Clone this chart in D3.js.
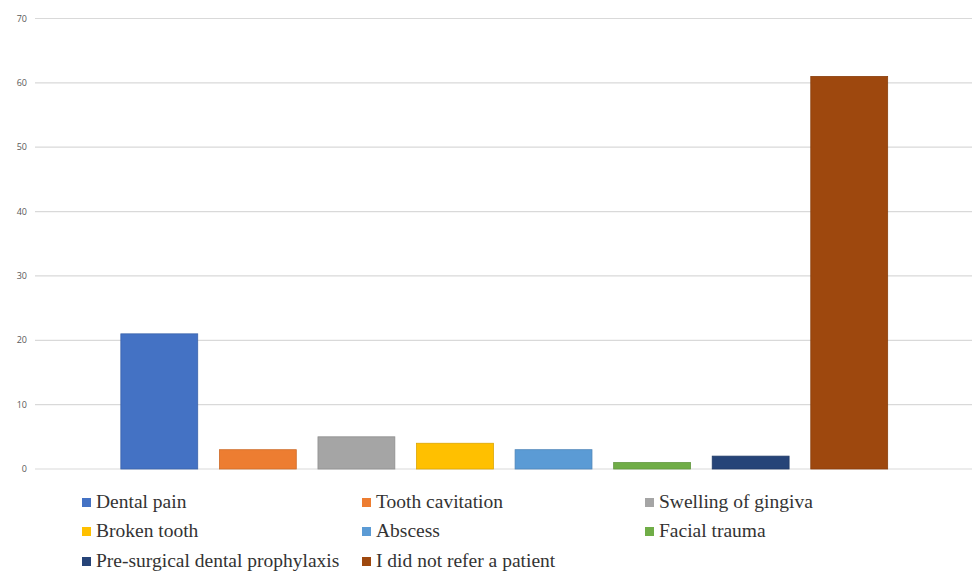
<!DOCTYPE html>
<html>
<head>
<meta charset="utf-8">
<script src="https://cdn.jsdelivr.net/npm/d3@7"></script>
<style>
body { margin: 0; background: #fff; }
#wrap { position: relative; width: 975px; height: 571px; }
svg { display: block; position: absolute; left: 0; top: 0; }
.legend-item {
    position: absolute;
    font-family: "Liberation Serif", "Times New Roman", serif;
    font-size: 19.5px;
    color: #333;
    white-space: nowrap;
    line-height: 20px;
}
.legend-item span.sw {
    display: inline-block;
    width: 9px;
    height: 9px;
    margin-right: 5px;
    vertical-align: 1px;
}
</style>
</head>
<body>
<div id="wrap">
<svg width="975" height="571"></svg>
</div>
<script>
var categories = ["Dental pain", "Tooth cavitation", "Swelling of gingiva", "Broken tooth",
    "Abscess", "Facial trauma", "Pre-surgical dental prophylaxis", "I did not refer a patient"];
var values = [21, 3, 5, 4, 3, 1, 2, 61];
var colors = ["#4472C4", "#ED7D31", "#A5A5A5", "#FFC000", "#5B9BD5", "#70AD47", "#264478", "#9E480E"];
var yTicks = [0, 10, 20, 30, 40, 50, 60, 70];

var svg = d3.select("svg");

var y = d3.scaleLinear()
    .domain([0, 70])
    .range([469, 18.5]);

var x = d3.scaleBand()
    .domain(categories)
    .range([110, 898.5])
    .paddingInner(0.22)
    .paddingOuter(0.11);

// gridlines + tick labels
var grid = svg.append("g");
grid.selectAll("line")
    .data(yTicks)
    .enter().append("line")
    .attr("x1", 35)
    .attr("x2", 972)
    .attr("y1", function (d) { return y(d); })
    .attr("y2", function (d) { return y(d); })
    .attr("stroke", "#d9d9d9")
    .attr("stroke-width", 1.2);

grid.selectAll("text")
    .data(yTicks)
    .enter().append("text")
    .attr("x", 27)
    .attr("y", function (d) { return y(d); })
    .attr("dy", "0.35em")
    .attr("text-anchor", "end")
    .attr("font-family", "Open Sans, sans-serif")
    .attr("font-size", 9)
    .attr("fill", "#595959")
    .text(function (d) { return d; });

// bars
svg.append("g").selectAll("rect")
    .data(values)
    .enter().append("rect")
    .attr("x", function (d, i) { return x(categories[i]); })
    .attr("y", function (d) { return y(d); })
    .attr("width", x.bandwidth())
    .attr("height", function (d) { return y(0) - y(d); })
    .attr("fill", function (d, i) { return colors[i]; })
    .attr("stroke", function (d, i) { return d3.color(colors[i]).darker(0.4); })
    .attr("stroke-width", 0.8);

// legend as html, 3 columns (serif font)
var colX = [82, 362, 645];
var rowY = [492, 521, 551];
var items = d3.select("#wrap").selectAll("div.legend-item")
    .data(categories)
    .enter().append("div")
    .attr("class", "legend-item")
    .style("left", function (d, i) { return colX[i % 3] + "px"; })
    .style("top", function (d, i) { return rowY[Math.floor(i / 3)] + "px"; });

items.append("span")
    .attr("class", "sw")
    .style("background", function (d, i) { return colors[i]; });

items.append("span")
    .text(function (d) { return d; });
</script>
</body>
</html>
